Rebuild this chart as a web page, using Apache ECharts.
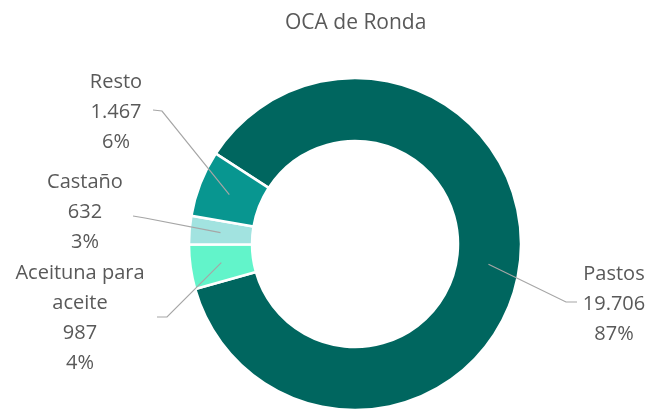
<!DOCTYPE html>
<html>
<head>
<meta charset="utf-8">
<script src="https://cdn.jsdelivr.net/npm/echarts@6/dist/echarts.min.js"></script>
<style>
html,body{margin:0;padding:0;background:#fff;}
#chart{width:659px;height:412px;}
</style>
</head>
<body>
<div id="chart"></div>
<script>
// Data (clockwise order starting from the upper-left boundary)
var categories = ['Pastos', 'Aceituna para\naceite', 'Castaño', 'Resto'];
var values = [19706, 987, 632, 1467];
var colors = ['#00665F', '#62F4CA', '#A2E3E0', '#089690'];
var titleText = 'OCA de Ronda';

function fmt(v) {
  return String(v).replace(/\B(?=(\d{3})+(?!\d))/g, '.');
}

var seriesData = categories.map(function (c, i) {
  return { name: c, value: values[i], itemStyle: { color: colors[i] } };
});

// label placement (layout only)
var labelPos = [
  { x: 614, y: 304, bend: [566, 302], end: [577, 302] },
  { x: 80,  y: 318, bend: [167, 317], end: [157, 317] },
  { x: 85,  y: 212, bend: [145, 218], end: [133, 216] },
  { x: 116, y: 112, bend: [162, 111], end: [153, 110] }
];

var center = [355, 244];
var chart = echarts.init(document.getElementById('chart'));
chart.setOption({
  animation: false,
  title: {
    text: titleText,
    left: 280,
    top: 8,
    textStyle: { color: '#595959', fontSize: 21, fontWeight: 'normal', fontFamily: 'Open Sans' }
  },
  series: [
    {
      type: 'pie',
      z: 2,
      center: center,
      radius: [103, 166],
      startAngle: 147,
      clockwise: true,
      silent: true,
      label: { show: false },
      labelLine: { show: false },
      itemStyle: { borderColor: '#ffffff', borderWidth: 2.5 },
      data: seriesData
    },
    {
      type: 'pie',
      z: 5,
      center: center,
      radius: [0, 135],
      startAngle: 147,
      clockwise: true,
      silent: true,
      percentPrecision: 0,
      itemStyle: { color: 'rgba(0,0,0,0)' },
      label: {
        show: true,
        position: 'outside',
        color: '#595959',
        fontFamily: 'Open Sans',
        fontSize: 20,
        lineHeight: 30,
        align: 'center',
        formatter: function (p) {
          return p.name + '\n' + fmt(p.value) + '\n' + p.percent + '%';
        }
      },
      labelLine: {
        show: true,
        smooth: false,
        lineStyle: { color: '#A6A6A6', width: 1.2 }
      },
      labelLayout: function (params) {
        var lp = labelPos[params.dataIndex];
        var pts = params.labelLinePoints;
        var start = pts ? [pts[0][0], pts[0][1]] : lp.bend;
        return {
          x: lp.x,
          y: lp.y,
          align: 'center',
          verticalAlign: 'middle',
          labelLinePoints: [start, lp.bend, lp.end]
        };
      },
      data: categories.map(function (c, i) {
        return { name: c, value: values[i] };
      })
    }
  ]
});
</script>
</body>
</html>
